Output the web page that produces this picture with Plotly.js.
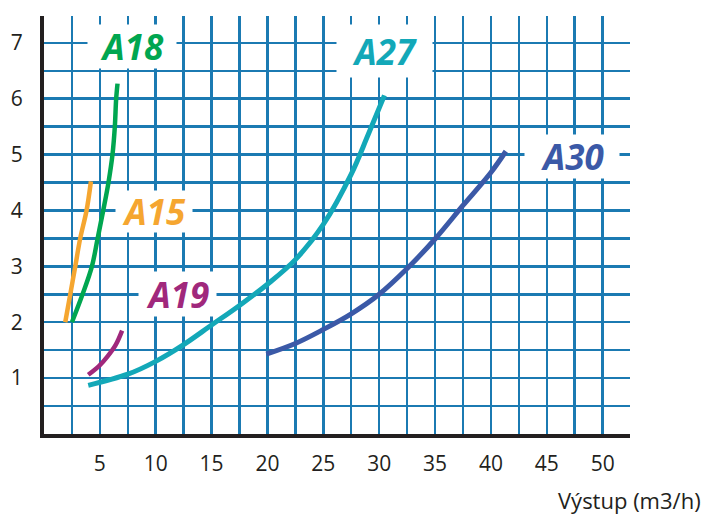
<!DOCTYPE html>
<html>
<head>
<meta charset="utf-8">
<script src="https://cdn.plot.ly/plotly-3.0.1.min.js"></script>
<style>html,body{margin:0;padding:0;background:#fff;}#chart{width:704px;height:514px;}</style>
</head>
<body>
<div id="chart"></div>
<script>
// Series data (flow m3/h vs value)
const a15X = [1.9, 2.35, 2.8, 3.24, 3.81, 4.2];
const a15Y = [2.0, 2.5, 3.0, 3.5, 4.0, 4.52];

const a18X = [2.5, 3.45, 4.29, 4.8, 5.30, 5.77, 6.13, 6.34, 6.46, 6.58];
const a18Y = [2.0, 2.5, 3.0, 3.5, 4.0, 4.5, 5.0, 5.5, 6.0, 6.27];

const a19X = [3.96, 4.94, 5.69, 6.43, 6.99];
const a19Y = [1.06, 1.22, 1.39, 1.6, 1.85];

const a27X = [3.96, 7.5, 10, 12.5, 15, 17.5, 20, 22.5, 25, 27.5, 29, 30.47];
const a27Y = [0.87, 1.07, 1.30, 1.60, 1.95, 2.3, 2.68, 3.12, 3.75, 4.65, 5.35, 6.06];

const a30X = [19.9, 22.5, 25, 27.5, 30, 32.5, 35, 37.5, 40, 41.34];
const a30Y = [1.43, 1.62, 1.87, 2.15, 2.5, 2.96, 3.49, 4.09, 4.68, 5.06];

const seriesNames = ["A15", "A18", "A19", "A27", "A30"];
const xTickVals = [5, 10, 15, 20, 25, 30, 35, 40, 45, 50];
const yTickVals = [1, 2, 3, 4, 5, 6, 7];
const xAxisLabel = "Výstup (m3/h)";

const colors = {A15: "#f5a630", A18: "#00a650", A19: "#a0287c", A27: "#13a8b8", A30: "#3b59a7"};
const gridColor = "#1b7ab2";
const inkColor = "#231f20";

function line(name, x, y, w) {
  return {x: x, y: y, name: name, type: "scatter", mode: "lines",
          line: {color: colors[name], width: w, shape: "spline", smoothing: 1.0},
          hoverinfo: "skip", showlegend: false};
}

const traces = [
  line("A15", a15X, a15Y, 4.5),
  line("A18", a18X, a18Y, 4.5),
  line("A19", a19X, a19Y, 4.5),
  line("A27", a27X, a27Y, 5),
  line("A30", a30X, a30Y, 5)
];

// label placement (layout only)
const labelPos = {
  A18: {x: 7.9, y: 6.94, w: 88, h: 43},
  A27: {x: 30.5, y: 6.86, w: 95, h: 52},
  A30: {x: 47.3, y: 4.97, w: 94, h: 43},
  A15: {x: 9.85, y: 3.98, w: 76, h: 41},
  A19: {x: 11.95, y: 2.51, w: 77, h: 44}
};

const annotations = seriesNames.map(n => ({
  x: labelPos[n].x, y: labelPos[n].y, xref: "x", yref: "y",
  text: n, showarrow: false, xanchor: "center", yanchor: "middle",
  width: labelPos[n].w, height: labelPos[n].h, bgcolor: "#ffffff", borderpad: 0,
  font: {family: "Open Sans, sans-serif", size: 35, color: colors[n], weight: "bold", style: "italic"}
}));

annotations.push({
  xref: "paper", yref: "paper", x: 1.125, y: -0.158, xanchor: "right", yanchor: "middle",
  text: xAxisLabel, showarrow: false,
  font: {family: "Open Sans, sans-serif", size: 22, color: inkColor}
});

const layout = {
  width: 704, height: 514,
  margin: {l: 44, r: 74, t: 16, b: 80},
  paper_bgcolor: "#ffffff", plot_bgcolor: "#ffffff",
  xaxis: {
    range: [0, 52.45], tickvals: xTickVals, ticktext: xTickVals.map(String),
    showgrid: true, gridcolor: gridColor, gridwidth: 2.5, zeroline: false,
    minor: {dtick: 2.5, tick0: 0, showgrid: true, gridcolor: gridColor, gridwidth: 2.5},
    showline: true, linecolor: inkColor, linewidth: 4,
    ticks: "outside", ticklen: 8, tickcolor: "rgba(0,0,0,0)",
    tickfont: {family: "Open Sans, sans-serif", size: 21, color: inkColor},
    fixedrange: true
  },
  yaxis: {
    range: [0, 7.48], tickvals: yTickVals, ticktext: yTickVals.map(String),
    showgrid: true, gridcolor: gridColor, gridwidth: 2.5, zeroline: false,
    minor: {dtick: 0.5, tick0: 0, showgrid: true, gridcolor: gridColor, gridwidth: 2.5},
    showline: true, linecolor: inkColor, linewidth: 4,
    ticks: "outside", ticklen: 13, tickcolor: "rgba(0,0,0,0)",
    tickfont: {family: "Open Sans, sans-serif", size: 21, color: inkColor},
    fixedrange: true
  },
  annotations: annotations,
  showlegend: false
};

Plotly.newPlot("chart", traces, layout, {displayModeBar: false, staticPlot: true});
</script>
</body>
</html>
